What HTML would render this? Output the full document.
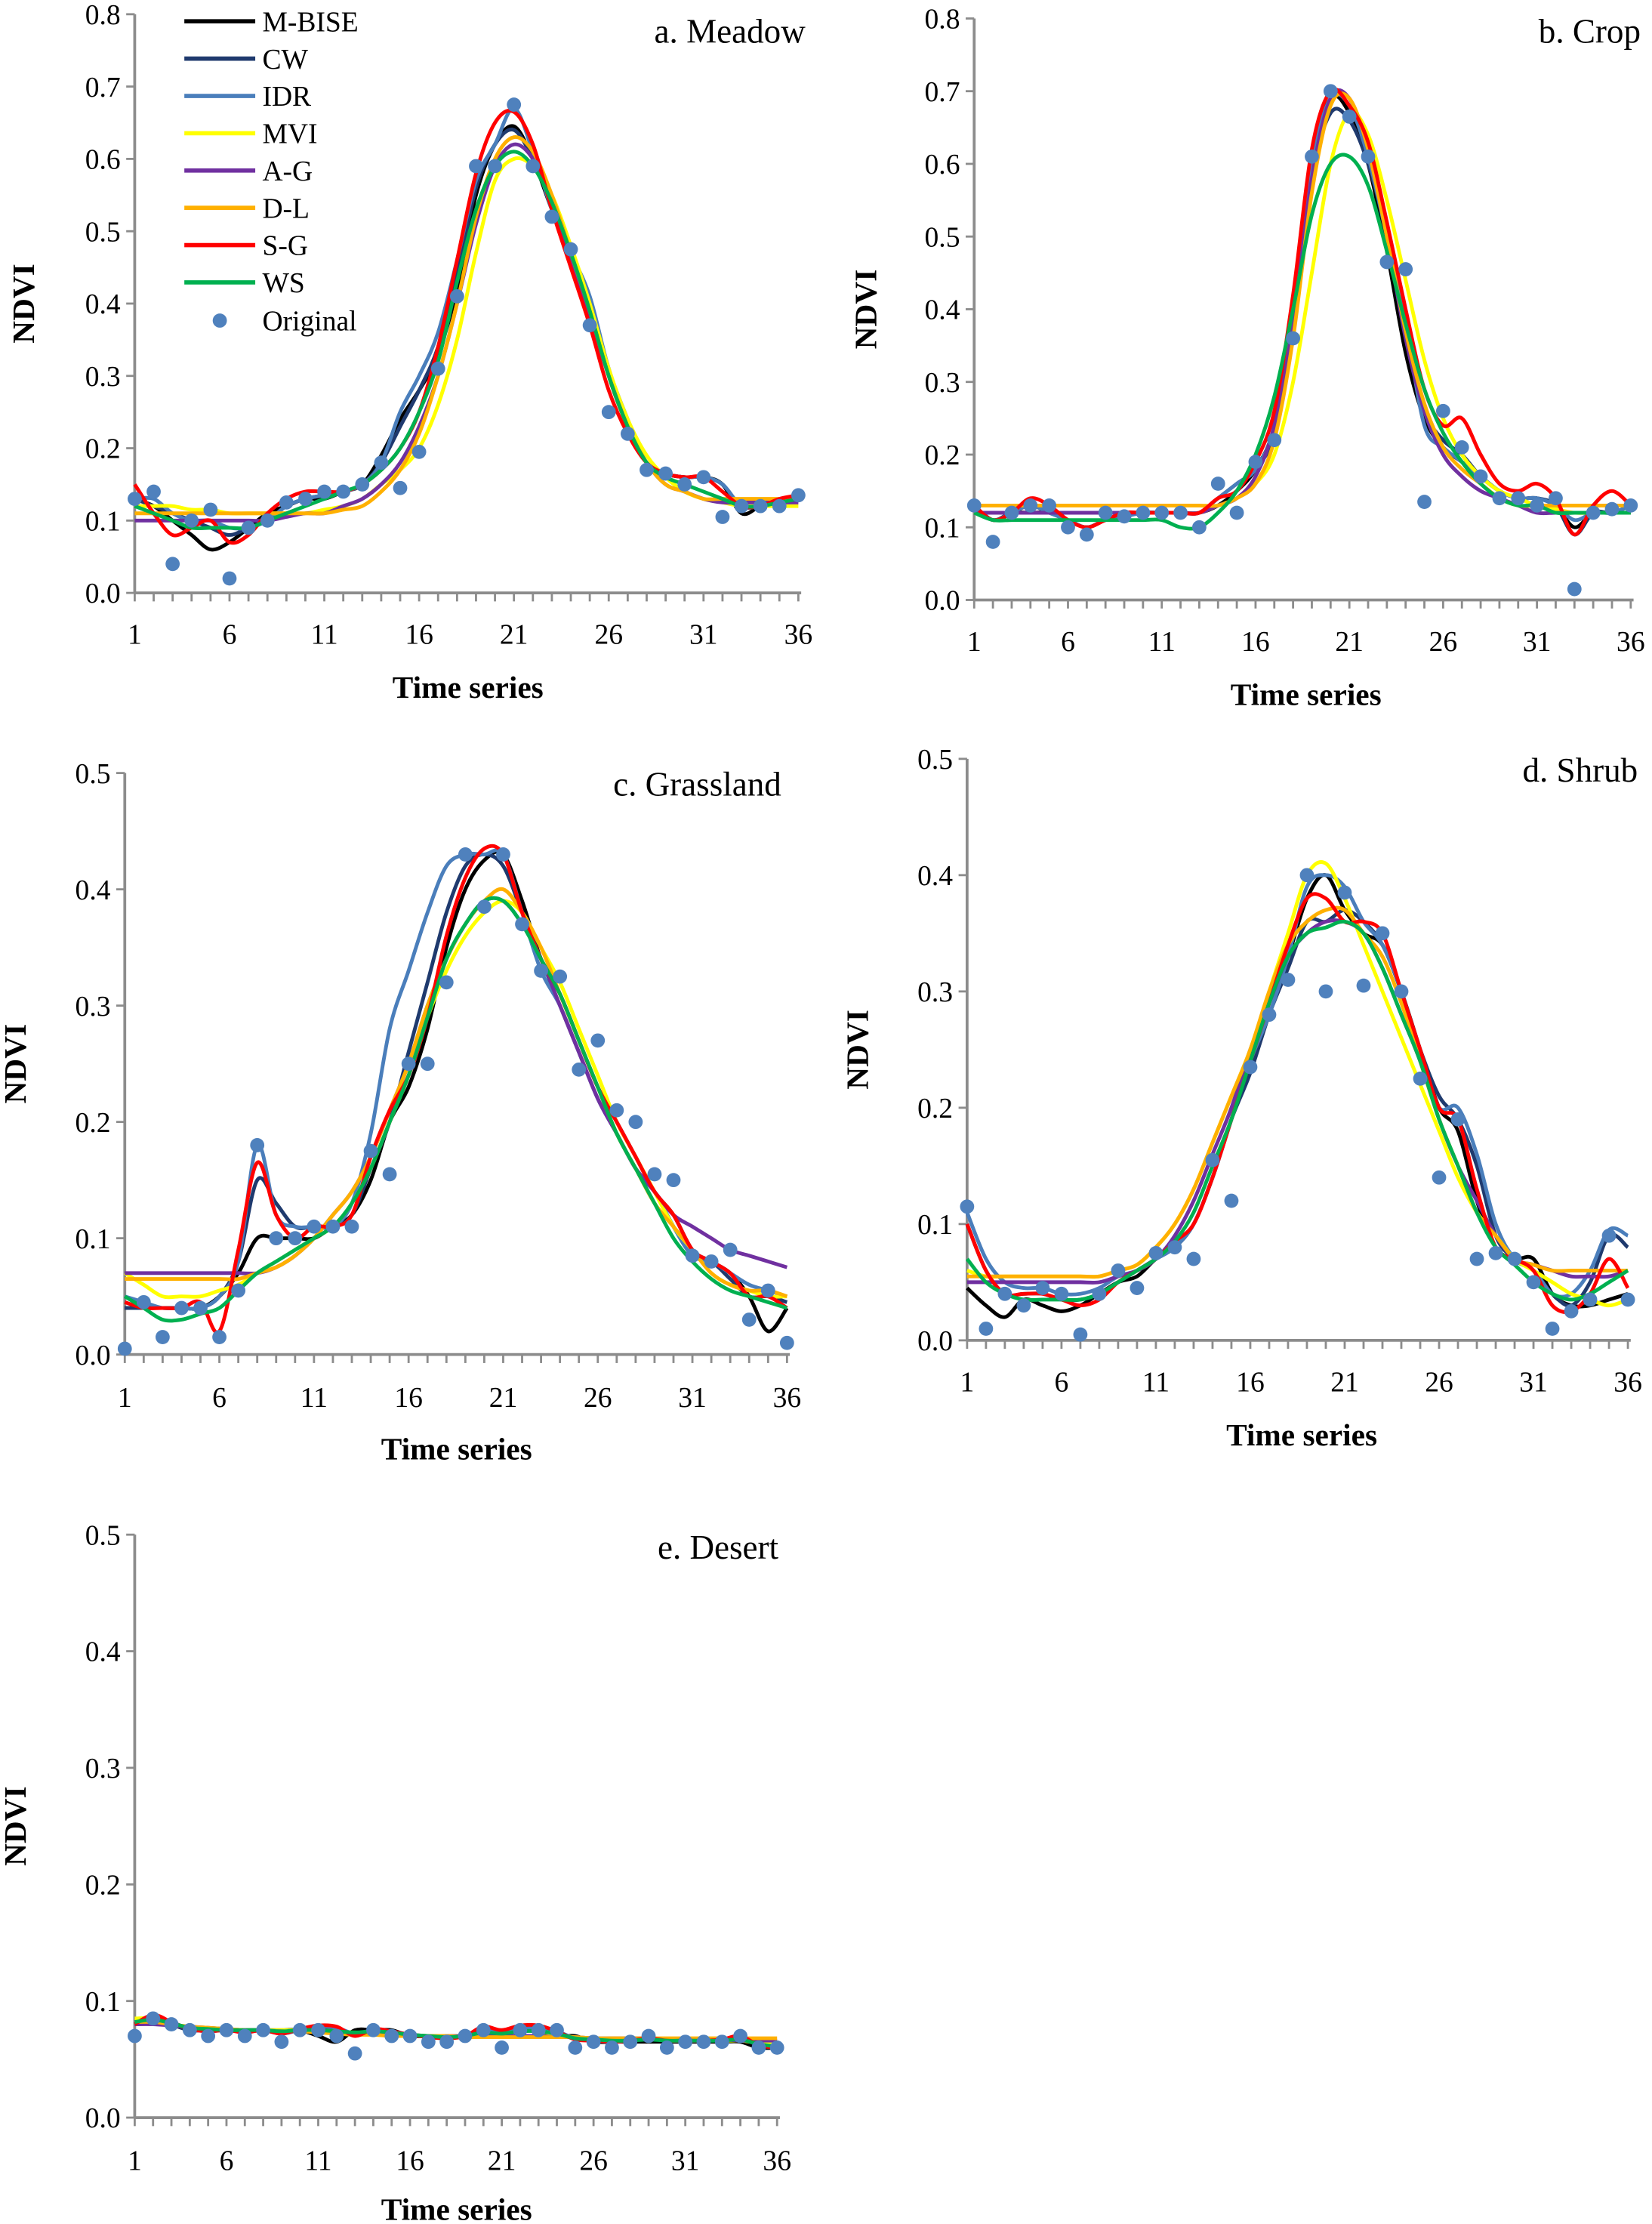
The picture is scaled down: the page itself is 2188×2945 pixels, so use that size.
<!DOCTYPE html>
<html><head><meta charset="utf-8"><style>
html,body{margin:0;padding:0;background:#fff}
svg{display:block}
text{font-family:"Liberation Serif",serif;fill:#000}
</style></head><body>
<svg id="chart" width="2188" height="2945" viewBox="0 0 1165 1568" xmlns="http://www.w3.org/2000/svg"></svg>
<script>
const timeSteps=[1,2,3,4,5,6,7,8,9,10,11,12,13,14,15,16,17,18,19,20,21,22,23,24,25,26,27,28,29,30,31,32,33,34,35,36];
const xTickLabels=[1,6,11,16,21,26,31,36];
const seriesNames=["M-BISE","CW","IDR","MVI","A-G","D-L","S-G","WS"];
const seriesColors=["#000000","#1f3a6e","#4a7ebb","#ffff00","#7030a0","#ffb000","#ff0000","#00b050"];

const a_orig=[.13,.14,.04,.10,.115,.02,.09,.10,.125,.13,.14,.14,.15,.18,.145,.195,.31,.41,.59,.59,.675,.59,.52,.475,.37,.25,.22,.17,.165,.15,.16,.105,.12,.12,.12,.135];
const a_mbise=[.13,.12,.10,.08,.06,.07,.09,.11,.12,.13,.13,.14,.15,.19,.24,.28,.33,.42,.55,.62,.645,.60,.53,.47,.40,.30,.23,.18,.165,.16,.16,.15,.11,.12,.125,.135];
const a_cw=[.13,.12,.11,.10,.09,.08,.09,.10,.12,.13,.135,.14,.15,.18,.23,.28,.34,.44,.56,.62,.64,.60,.54,.47,.40,.31,.23,.18,.165,.16,.16,.15,.12,.12,.125,.135];
const a_idr=[.13,.13,.11,.10,.10,.09,.09,.10,.12,.13,.135,.14,.15,.18,.25,.30,.36,.46,.57,.62,.67,.61,.53,.47,.41,.31,.24,.18,.165,.16,.16,.15,.12,.12,.125,.135];
const a_mvi=[.12,.12,.12,.115,.115,.11,.11,.11,.11,.11,.115,.12,.13,.15,.17,.20,.26,.35,.47,.57,.60,.59,.55,.48,.40,.31,.24,.19,.16,.14,.13,.125,.12,.12,.12,.12];
const a_ag=[.10,.10,.10,.10,.10,.10,.10,.10,.105,.11,.11,.12,.13,.15,.18,.23,.30,.40,.51,.59,.62,.60,.54,.46,.38,.30,.23,.18,.15,.14,.13,.125,.125,.125,.125,.125];
const a_dl=[.11,.11,.11,.11,.11,.11,.11,.11,.11,.11,.11,.115,.12,.14,.17,.22,.30,.40,.52,.60,.63,.61,.55,.47,.39,.30,.23,.18,.15,.14,.13,.13,.13,.13,.13,.13];
const a_sg=[.15,.11,.08,.09,.10,.07,.08,.11,.13,.14,.14,.14,.15,.17,.20,.25,.34,.46,.58,.65,.665,.62,.53,.45,.37,.28,.22,.18,.165,.16,.16,.14,.12,.12,.13,.135];
const a_ws=[.12,.11,.10,.09,.09,.09,.09,.10,.11,.12,.13,.14,.15,.17,.20,.25,.32,.43,.53,.59,.61,.59,.54,.47,.39,.30,.23,.18,.16,.15,.14,.13,.12,.12,.125,.13];

const b_orig=[.13,.08,.12,.13,.13,.10,.09,.12,.115,.12,.12,.12,.10,.16,.12,.19,.22,.36,.61,.70,.665,.61,.465,.455,.135,.26,.21,.17,.14,.14,.13,.14,.015,.12,.125,.13];
const b_mbise=[.13,.11,.12,.12,.12,.11,.10,.11,.115,.12,.12,.12,.12,.13,.15,.18,.24,.40,.60,.69,.67,.60,.48,.34,.25,.21,.19,.17,.15,.14,.14,.13,.10,.12,.12,.13];
const b_cw=[.13,.11,.12,.13,.12,.11,.10,.11,.115,.12,.12,.12,.12,.14,.16,.18,.23,.38,.58,.67,.66,.60,.50,.36,.26,.22,.20,.17,.15,.14,.14,.13,.09,.12,.12,.13];
const b_idr=[.13,.11,.12,.13,.12,.11,.10,.11,.115,.12,.12,.12,.12,.14,.16,.18,.24,.40,.60,.69,.68,.61,.50,.38,.24,.21,.19,.17,.15,.14,.14,.13,.11,.12,.12,.13];
const b_mvi=[.12,.12,.12,.12,.12,.12,.12,.12,.12,.12,.12,.12,.12,.13,.14,.16,.20,.30,.45,.60,.67,.64,.55,.44,.33,.25,.20,.17,.15,.14,.13,.125,.12,.12,.12,.12];
const b_ag=[.12,.12,.12,.12,.12,.12,.12,.12,.12,.12,.12,.12,.12,.13,.14,.17,.24,.38,.58,.69,.69,.62,.50,.36,.26,.20,.17,.15,.14,.13,.12,.12,.12,.12,.12,.12];
const b_dl=[.13,.13,.13,.13,.13,.13,.13,.13,.13,.13,.13,.13,.13,.13,.14,.16,.22,.36,.56,.68,.69,.62,.50,.37,.27,.21,.18,.16,.14,.13,.13,.13,.13,.13,.13,.13];
const b_sg=[.13,.11,.12,.14,.13,.11,.10,.11,.12,.12,.12,.12,.12,.14,.15,.19,.26,.42,.62,.70,.68,.63,.52,.40,.29,.24,.25,.20,.16,.15,.16,.14,.09,.13,.15,.13];
const b_ws=[.12,.11,.11,.11,.11,.11,.11,.11,.11,.11,.11,.10,.10,.12,.15,.20,.28,.40,.53,.60,.61,.57,.48,.38,.29,.23,.19,.16,.14,.13,.13,.12,.12,.12,.12,.12];

const c_orig=[.005,.045,.015,.04,.04,.015,.055,.18,.10,.10,.11,.11,.11,.175,.155,.25,.25,.32,.43,.385,.43,.37,.33,.325,.245,.27,.21,.20,.155,.15,.085,.08,.09,.03,.055,.01];
const c_mbise=[.04,.04,.04,.04,.04,.05,.07,.10,.10,.10,.10,.11,.12,.15,.20,.23,.28,.35,.40,.425,.43,.39,.34,.31,.27,.23,.20,.17,.14,.12,.09,.08,.07,.05,.02,.04];
const c_cw=[.04,.04,.04,.04,.04,.05,.08,.15,.13,.11,.11,.11,.12,.16,.20,.26,.32,.38,.42,.43,.42,.38,.34,.30,.26,.22,.19,.16,.14,.11,.085,.08,.065,.05,.05,.045];
const c_idr=[.05,.045,.04,.04,.04,.05,.08,.18,.12,.11,.11,.11,.13,.19,.28,.33,.38,.42,.43,.43,.43,.38,.33,.30,.26,.22,.19,.16,.14,.11,.085,.08,.07,.06,.055,.05];
const c_mvi=[.07,.06,.05,.05,.05,.055,.06,.07,.08,.09,.10,.11,.13,.16,.20,.24,.29,.33,.36,.38,.39,.38,.35,.32,.28,.24,.20,.17,.14,.11,.09,.07,.06,.055,.05,.05];
const c_ag=[.07,.07,.07,.07,.07,.07,.07,.07,.075,.085,.10,.12,.14,.17,.21,.25,.30,.34,.37,.39,.39,.37,.34,.30,.26,.22,.19,.16,.14,.12,.11,.10,.09,.085,.08,.075];
const c_dl=[.065,.065,.065,.065,.065,.065,.065,.07,.075,.085,.10,.12,.14,.17,.21,.25,.30,.34,.37,.39,.40,.38,.35,.31,.27,.23,.19,.16,.13,.11,.09,.07,.06,.055,.055,.05];
const c_sg=[.045,.04,.04,.04,.045,.02,.09,.165,.12,.10,.11,.11,.12,.17,.21,.24,.29,.36,.41,.435,.43,.38,.34,.31,.27,.23,.20,.17,.14,.12,.09,.08,.07,.05,.05,.04];
const c_ws=[.05,.04,.03,.03,.035,.04,.055,.07,.08,.09,.10,.11,.13,.16,.20,.24,.29,.34,.37,.39,.39,.37,.34,.31,.27,.23,.19,.16,.13,.10,.08,.065,.055,.05,.045,.04];

const d_orig=[.115,.01,.04,.03,.045,.04,.005,.04,.06,.045,.075,.08,.07,.155,.12,.235,.28,.31,.40,.30,.385,.305,.35,.30,.225,.14,.19,.07,.075,.07,.05,.01,.025,.035,.09,.035];
const d_mbise=[.045,.03,.02,.035,.03,.025,.03,.04,.05,.055,.07,.08,.10,.14,.19,.24,.29,.33,.38,.40,.37,.35,.34,.30,.25,.20,.18,.12,.08,.07,.07,.04,.03,.03,.035,.04];
const d_cw=[.10,.06,.04,.04,.04,.035,.035,.04,.05,.06,.07,.08,.10,.14,.19,.23,.28,.32,.36,.36,.37,.36,.34,.30,.25,.21,.19,.15,.09,.07,.06,.04,.03,.05,.09,.08];
const d_idr=[.11,.07,.05,.045,.045,.04,.04,.045,.055,.06,.07,.08,.10,.14,.19,.24,.28,.33,.39,.40,.39,.36,.34,.30,.24,.20,.20,.16,.10,.07,.06,.04,.04,.06,.095,.09];
const d_mvi=[.06,.055,.055,.055,.055,.055,.055,.055,.06,.065,.08,.10,.13,.17,.21,.25,.30,.35,.40,.41,.38,.34,.30,.26,.22,.18,.14,.11,.09,.07,.06,.05,.04,.035,.03,.035];
const d_ag=[.05,.05,.05,.05,.05,.05,.05,.05,.055,.06,.07,.09,.12,.16,.20,.25,.29,.33,.35,.36,.36,.35,.32,.28,.24,.19,.15,.12,.09,.07,.065,.06,.055,.055,.055,.06];
const d_dl=[.055,.055,.055,.055,.055,.055,.055,.055,.06,.065,.08,.10,.13,.17,.21,.25,.30,.34,.36,.37,.37,.35,.33,.29,.24,.19,.15,.11,.09,.07,.065,.06,.06,.06,.06,.06];
const d_sg=[.10,.06,.04,.04,.04,.035,.03,.035,.05,.06,.07,.085,.10,.14,.19,.24,.29,.34,.38,.38,.36,.36,.35,.30,.25,.20,.19,.13,.08,.07,.06,.03,.025,.04,.07,.045];
const d_ws=[.07,.05,.04,.035,.035,.035,.035,.04,.05,.06,.07,.085,.11,.15,.19,.24,.29,.33,.35,.355,.36,.35,.32,.28,.24,.19,.15,.11,.08,.065,.05,.04,.035,.04,.05,.06];

const e_orig=[.07,.085,.08,.075,.07,.075,.07,.075,.065,.075,.075,.07,.055,.075,.07,.07,.065,.065,.07,.075,.06,.075,.075,.075,.06,.065,.06,.065,.07,.06,.065,.065,.065,.07,.06,.06];
const e_mbise=[.08,.085,.08,.075,.075,.075,.075,.075,.075,.075,.07,.065,.075,.075,.075,.07,.07,.07,.07,.075,.075,.075,.075,.07,.07,.065,.065,.065,.065,.065,.065,.065,.065,.065,.06,.06];
const e_cw=[.08,.085,.08,.075,.075,.075,.075,.075,.072,.075,.075,.075,.072,.075,.073,.07,.07,.068,.07,.075,.072,.076,.076,.073,.068,.066,.065,.066,.068,.066,.066,.066,.067,.068,.062,.06];
const e_idr=[.08,.087,.082,.076,.074,.075,.074,.075,.072,.075,.078,.077,.072,.075,.074,.071,.069,.068,.07,.076,.073,.077,.077,.074,.068,.066,.065,.066,.068,.066,.066,.066,.067,.069,.062,.06];
const e_mvi=[.085,.085,.08,.078,.077,.076,.075,.075,.075,.075,.075,.074,.073,.073,.072,.071,.07,.07,.07,.07,.07,.07,.07,.07,.069,.068,.068,.068,.068,.067,.067,.067,.066,.066,.064,.063];
const e_ag=[.08,.08,.079,.078,.077,.076,.075,.075,.074,.074,.073,.073,.072,.072,.071,.071,.07,.07,.07,.07,.07,.07,.07,.069,.069,.068,.068,.068,.068,.067,.067,.067,.067,.066,.066,.066];
const e_dl=[.082,.082,.08,.078,.077,.076,.075,.075,.074,.074,.073,.072,.071,.071,.07,.07,.07,.07,.069,.069,.069,.069,.069,.069,.069,.068,.068,.068,.068,.068,.068,.068,.068,.068,.068,.068];
const e_sg=[.08,.088,.082,.076,.074,.075,.073,.075,.072,.076,.079,.078,.07,.076,.074,.071,.069,.068,.07,.078,.075,.079,.079,.074,.067,.066,.065,.066,.068,.066,.066,.066,.067,.07,.062,.06];
const e_ws=[.082,.084,.081,.077,.076,.075,.075,.075,.074,.075,.075,.074,.073,.074,.073,.071,.07,.069,.07,.073,.072,.074,.074,.072,.068,.067,.066,.066,.067,.066,.066,.066,.066,.067,.063,.061];

const panels=[
 {id:"meadow",title:"a. Meadow",ax:95,x36:563,y0:418,ymax:0.8,ytop:10,yTicks:[0,0.1,0.2,0.3,0.4,0.5,0.6,0.7,0.8],labY:447,tsY:492,tsX:330,ndviX:24,titleX:568,titleY:30,orig:a_orig,series:[a_mbise,a_cw,a_idr,a_mvi,a_ag,a_dl,a_sg,a_ws],legend:true},
 {id:"crop",title:"b. Crop",ax:687,x36:1150,y0:423,ymax:0.8,ytop:13,yTicks:[0,0.1,0.2,0.3,0.4,0.5,0.6,0.7,0.8],labY:452,tsY:497,tsX:921,ndviX:618,titleX:1157,titleY:30,orig:b_orig,series:[b_mbise,b_cw,b_idr,b_mvi,b_ag,b_dl,b_sg,b_ws]},
 {id:"grassland",title:"c. Grassland",ax:88,x36:555,y0:955,ymax:0.5,ytop:545,yTicks:[0,0.1,0.2,0.3,0.4,0.5],labY:985,tsY:1029,tsX:322,ndviX:18,titleX:551,titleY:561,orig:c_orig,series:[c_mbise,c_cw,c_idr,c_mvi,c_ag,c_dl,c_sg,c_ws]},
 {id:"shrub",title:"d. Shrub",ax:682,x36:1148,y0:945,ymax:0.5,ytop:535,yTicks:[0,0.1,0.2,0.3,0.4,0.5],labY:974,tsY:1019,tsX:918,ndviX:612,titleX:1155,titleY:551,orig:d_orig,series:[d_mbise,d_cw,d_idr,d_mvi,d_ag,d_dl,d_sg,d_ws]},
 {id:"desert",title:"e. Desert",ax:95,x36:548,y0:1493,ymax:0.5,ytop:1082,yTicks:[0,0.1,0.2,0.3,0.4,0.5],labY:1523,tsY:1565,tsX:322,ndviX:18,titleX:549,titleY:1099,orig:e_orig,series:[e_mbise,e_cw,e_idr,e_mvi,e_ag,e_dl,e_sg,e_ws]}
];

const NS="http://www.w3.org/2000/svg";
const svg=document.getElementById("chart");
function mk(tag,attrs,parent){const e=document.createElementNS(NS,tag);for(const k in attrs)e.setAttribute(k,attrs[k]);(parent||svg).appendChild(e);return e;}
function smoothPath(pts){let d="M"+pts[0][0].toFixed(2)+","+pts[0][1].toFixed(2);
 for(let i=0;i<pts.length-1;i++){const p0=pts[i-1]||pts[i],p1=pts[i],p2=pts[i+1],p3=pts[i+2]||p2;
  const c1=[p1[0]+(p2[0]-p0[0])/6,p1[1]+(p2[1]-p0[1])/6],c2=[p2[0]-(p3[0]-p1[0])/6,p2[1]-(p3[1]-p1[1])/6];
  d+=" C"+c1[0].toFixed(2)+","+c1[1].toFixed(2)+" "+c2[0].toFixed(2)+","+c2[1].toFixed(2)+" "+p2[0].toFixed(2)+","+p2[1].toFixed(2);}
 return d;}

panels.forEach(p=>{
 const g=mk("g",{});
 
 
 const xS=t=>p.ax+(t-1)*(p.x36-p.ax)/35;
 const yS=v=>p.y0-v*(p.y0-p.ytop)/p.ymax;
 const ya=mk("line",{x1:p.ax,y1:p.ytop,x2:p.ax,y2:p.y0,stroke:"#8c8c8c","stroke-width":2},g);
 
 
 const xa=mk("line",{x1:p.ax,y1:p.y0,x2:p.x36+2,y2:p.y0,stroke:"#8c8c8c","stroke-width":2},g);
 
 
 timeSteps.forEach(t=>{mk("line",{x1:xS(t),y1:p.y0,x2:xS(t),y2:p.y0+6,stroke:"#8c8c8c","stroke-width":1.5},g);});
 p.yTicks.forEach(v=>{
  mk("line",{x1:p.ax-6,y1:yS(v),x2:p.ax,y2:yS(v),stroke:"#8c8c8c","stroke-width":1.5},g);
  const tl=mk("text",{x:p.ax-10,y:yS(v)+7,"text-anchor":"end","font-size":20},g);
  tl.textContent=v.toFixed(1);
  
  
 });
 xTickLabels.forEach(t=>{
  const tl=mk("text",{x:xS(t),y:p.labY+7,"text-anchor":"middle","font-size":20},g);
  tl.textContent=t;
  
  
 });
 const xt=mk("text",{x:p.tsX,y:p.tsY,"text-anchor":"middle","font-size":22,"font-weight":"bold"},g);
 xt.textContent="Time series";
 
 
 const cy=(p.ytop+p.y0)/2;
 const yt=mk("text",{x:p.ndviX,y:cy,"text-anchor":"middle","font-size":22,"font-weight":"bold",transform:"rotate(-90 "+p.ndviX+" "+cy+")"},g);
 yt.textContent="NDVI";
 
 
 const tt=mk("text",{x:p.titleX,y:p.titleY,"text-anchor":"end","font-size":24},g);
 tt.textContent=p.title;
 
 
 p.series.forEach((s,i)=>{
  const pts=s.map((v,j)=>[xS(timeSteps[j]),yS(v)]);
  const path=mk("path",{d:smoothPath(pts),fill:"none",stroke:seriesColors[i],"stroke-width":2.6,"stroke-linejoin":"round"},g);
  
  
 });
 p.orig.forEach((v,j)=>{
  const c=mk("circle",{cx:xS(timeSteps[j]),cy:yS(v),r:5,fill:"#4f81bd"},g);
  
  
 });
 if(p.legend){
  const lg=mk("g",{},g);
  
  
  seriesNames.forEach((n,i)=>{
   const yy=15+i*26.3;
   const l=mk("line",{x1:130,y1:yy,x2:180,y2:yy,stroke:seriesColors[i],"stroke-width":3},lg);
   
   
   const t=mk("text",{x:185,y:yy+7,"font-size":20},lg);
   t.textContent=n;
   
   
  });
  const dc=mk("circle",{cx:155,cy:226,r:5,fill:"#4f81bd"},lg);
  
  
  const ot=mk("text",{x:185,y:233,"font-size":20},lg);
  ot.textContent="Original";
  
  
 }
});
</script>
</body></html>
